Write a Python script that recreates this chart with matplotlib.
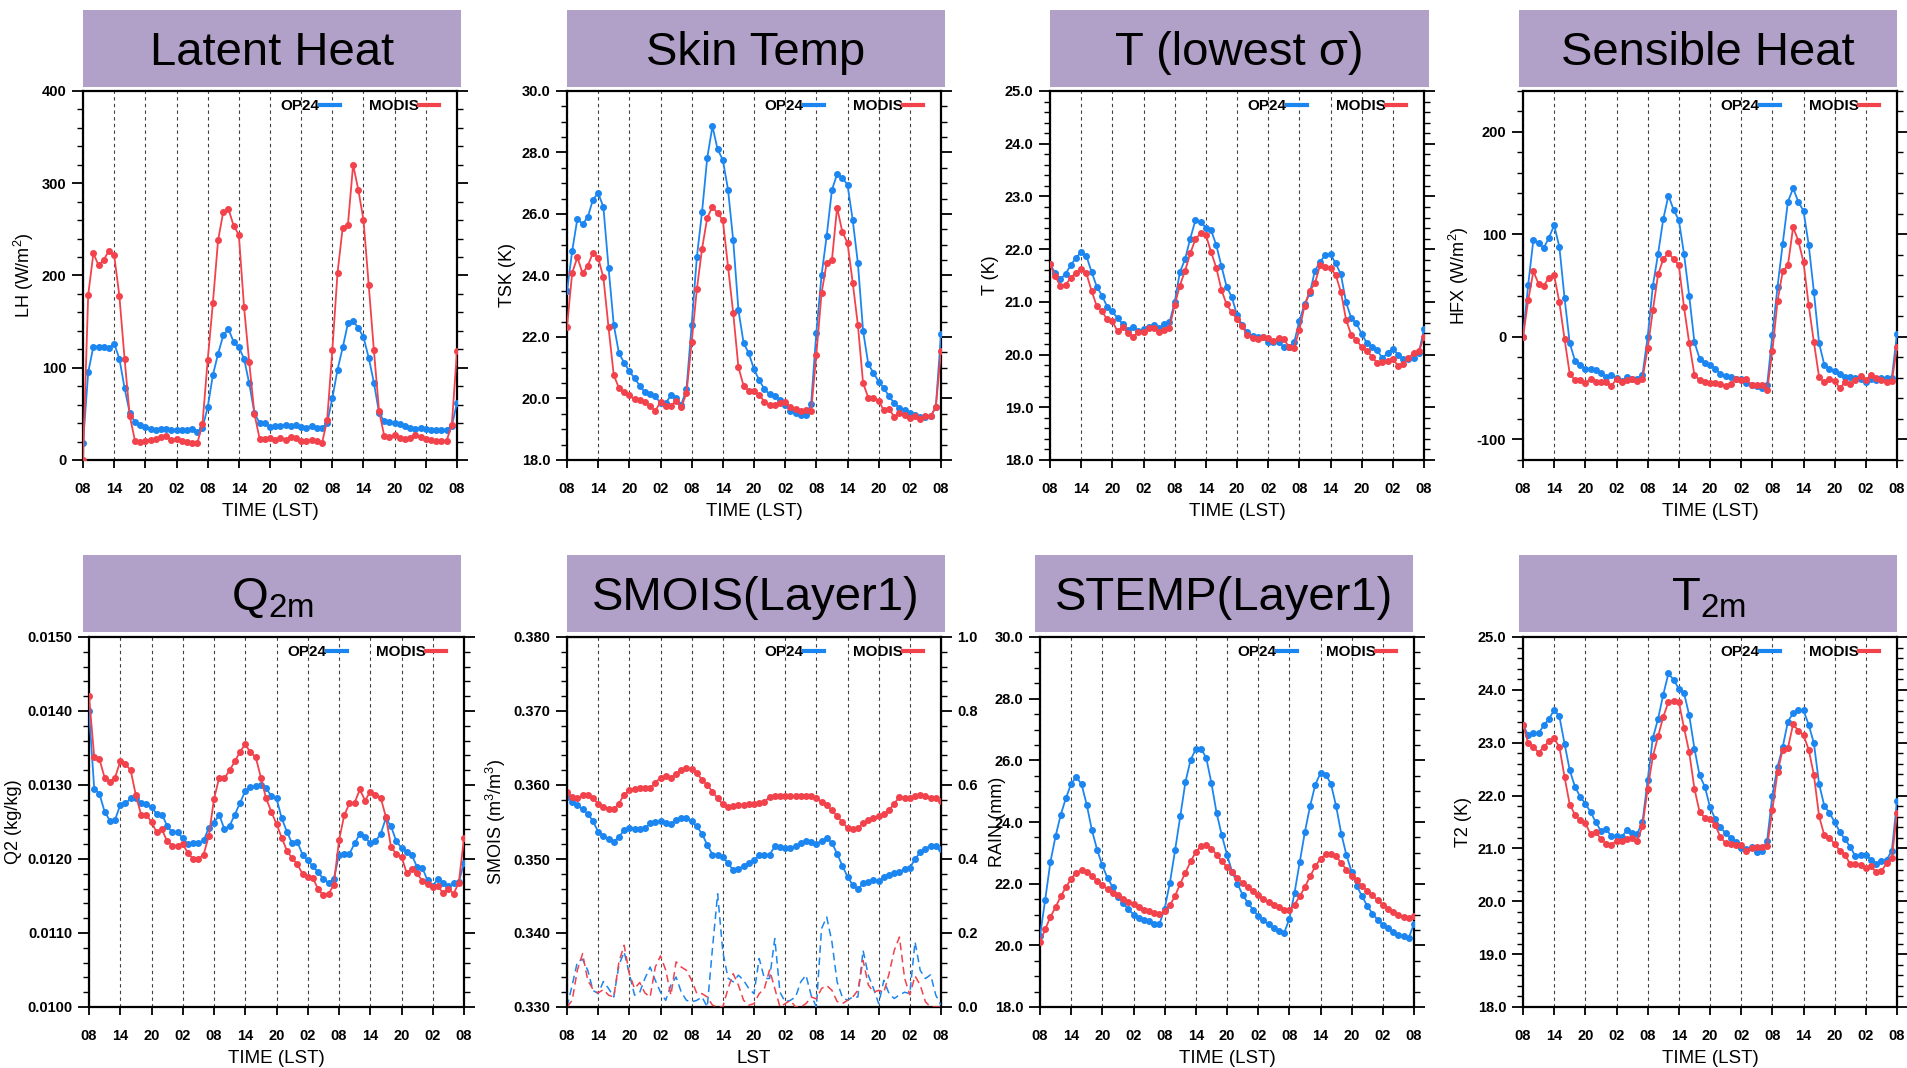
import matplotlib
matplotlib.use('Agg')
import matplotlib.pyplot as plt
from matplotlib.lines import Line2D
from matplotlib.ticker import MultipleLocator, FormatStrFormatter
import numpy as np

plt.rcParams['font.family'] = ['Liberation Sans', 'DejaVu Sans']
plt.rcParams['mathtext.default'] = 'regular'

hours = np.arange(73)
hour_labels = ['08', '14', '20', '02'] * 3 + ['08']

# Latent heat (W/m2)
lh_op24 = [18, 95, 123, 123, 123, 121, 126, 110, 78, 51, 41, 38,
           36, 34, 32, 34, 34, 33, 33, 33, 33, 34, 30, 35,
           57, 92, 115, 135, 142, 128, 122, 110, 83, 51, 40, 40,
           36, 37, 37, 38, 37, 38, 36, 35, 37, 35, 35, 40,
           67, 98, 122, 148, 151, 143, 133, 111, 84, 51, 42, 41,
           40, 39, 37, 35, 34, 35, 34, 33, 33, 33, 33, 37, 62]
lh_modis = [0, 179, 224, 211, 217, 227, 222, 178, 110, 48, 21, 20,
            21, 22, 23, 25, 26, 22, 23, 21, 19, 18, 18, 39,
            108, 170, 238, 269, 272, 254, 244, 166, 106, 50, 23, 23,
            24, 22, 24, 22, 25, 24, 21, 21, 22, 21, 18, 43,
            119, 203, 252, 255, 320, 293, 260, 190, 119, 53, 26, 25,
            27, 24, 23, 24, 27, 25, 23, 22, 21, 21, 21, 38, 118]

# Skin temperature
tsk_op24 = [23.5, 24.8, 25.85, 25.67, 25.9, 26.47, 26.68, 26.23, 24.25, 22.4, 21.47, 21.17,
            20.89, 20.66, 20.42, 20.2, 20.14, 20.07, 19.85, 19.85, 20.1, 20.03, 19.8, 20.3,
            22.4, 24.6, 26.07, 27.83, 28.85, 28.1, 27.76, 26.79, 25.14, 22.88, 21.8, 21.47,
            20.95, 20.6, 20.3, 20.14, 20.07, 19.96, 19.8, 19.6, 19.53, 19.45, 19.45, 19.83,
            22.14, 24.0, 25.3, 26.78, 27.3, 27.18, 26.95, 25.81, 24.4, 22.2, 21.12, 20.83,
            20.55, 20.34, 20.07, 19.85, 19.69, 19.63, 19.53, 19.47, 19.4, 19.4, 19.42, 19.72, 22.09]
tsk_modis = [22.34, 24.09, 24.59, 24.07, 24.32, 24.74, 24.57, 23.94, 22.31, 20.76, 20.34, 20.2,
             20.1, 19.98, 19.96, 19.88, 19.76, 19.59, 19.9, 19.76, 19.76, 19.93, 19.72, 20.17,
             21.83, 23.56, 24.87, 25.88, 26.23, 26.02, 25.8, 24.29, 22.77, 21.02, 20.41, 20.26,
             20.23, 20.12, 19.9, 19.8, 19.8, 19.85, 19.87, 19.72, 19.65, 19.58, 19.63, 19.6,
             21.42, 23.42, 24.42, 24.5, 26.21, 25.42, 25.06, 23.77, 22.39, 20.5, 20.03, 20.03,
             19.93, 19.61, 19.66, 19.4, 19.53, 19.45, 19.38, 19.42, 19.33, 19.42, 19.42, 19.72, 21.53]

# Temperature at lowest sigma level
t_op24 = [21.71, 21.55, 21.43, 21.53, 21.7, 21.83, 21.95, 21.87, 21.57, 21.29, 21.12, 20.91,
          20.82, 20.69, 20.58, 20.47, 20.53, 20.44, 20.48, 20.53, 20.56, 20.5, 20.58, 20.61,
          20.99, 21.56, 21.81, 22.2, 22.55, 22.52, 22.41, 22.36, 22.08, 21.68, 21.29, 21.09,
          20.75, 20.56, 20.42, 20.35, 20.33, 20.34, 20.23, 20.23, 20.23, 20.15, 20.15, 20.23,
          20.64, 20.95, 21.16, 21.59, 21.76, 21.89, 21.9, 21.73, 21.52, 20.99, 20.69, 20.59,
          20.39, 20.22, 20.15, 20.08, 19.93, 20.03, 20.11, 20.0, 19.91, 19.91, 19.93, 20.03, 20.48]
t_modis = [21.71, 21.49, 21.3, 21.32, 21.46, 21.55, 21.62, 21.54, 21.21, 20.92, 20.82, 20.67,
           20.63, 20.44, 20.53, 20.41, 20.34, 20.42, 20.42, 20.5, 20.51, 20.43, 20.47, 20.51,
           20.94, 21.31, 21.59, 21.92, 22.19, 22.3, 22.27, 21.95, 21.65, 21.23, 20.95, 20.8,
           20.67, 20.54, 20.37, 20.31, 20.29, 20.33, 20.32, 20.25, 20.32, 20.29, 20.15, 20.13,
           20.47, 20.92, 21.21, 21.35, 21.7, 21.67, 21.64, 21.51, 21.19, 20.66, 20.37, 20.28,
           20.14, 20.07, 19.96, 19.84, 19.85, 19.87, 19.91, 19.79, 19.82, 19.93, 20.03, 20.06, 20.33]

# Sensible heat (W/m2)
hfx_op24 = [0, 51, 95, 92, 87, 97, 109, 88, 38, -6, -23, -27,
            -31, -31, -32, -35, -39, -37, -40, -43, -39, -41, -41, -37,
            0, 50, 81, 115, 138, 124, 114, 81, 40, -5, -21, -25,
            -27, -31, -36, -38, -39, -41, -41, -45, -47, -48, -50, -47,
            2, 49, 91, 132, 145, 132, 123, 90, 44, -6, -27, -31,
            -33, -36, -39, -39, -40, -41, -44, -41, -42, -40, -40, -40, 3]
hfx_modis = [0, 36, 64, 52, 50, 58, 60, 34, -2, -36, -42, -42,
             -45, -41, -44, -44, -44, -48, -41, -44, -42, -41, -43, -41,
             -11, 26, 61, 76, 82, 76, 70, 29, -6, -37, -42, -44,
             -45, -45, -46, -48, -46, -41, -42, -41, -47, -47, -47, -52,
             -14, 35, 64, 70, 107, 94, 73, 31, -5, -39, -44, -41,
             -43, -50, -44, -46, -42, -38, -42, -37, -40, -42, -44, -43, -10]

# 2 m specific humidity (x 1e-4 kg/kg)
q2_op24 = [140.0, 129.5, 128.8, 126.4, 125.2, 125.3, 127.3, 127.5, 128.2, 128.2, 127.6, 127.4,
           127.0, 126.1, 126.0, 124.5, 123.6, 123.6, 122.8, 122.0, 122.1, 122.2, 122.5, 124.2,
           124.9, 126.0, 124.0, 124.5, 126.0, 127.6, 129.2, 129.7, 129.8, 130.0, 129.6, 128.5,
           128.2, 125.5, 123.7, 122.1, 122.3, 120.6, 119.8, 119.0, 118.2, 117.3, 116.8, 117.3,
           120.6, 120.7, 120.7, 122.1, 123.4, 123.0, 122.1, 122.4, 123.4, 125.5, 124.4, 122.4,
           121.5, 120.9, 120.5, 118.9, 118.8, 117.1, 116.4, 117.3, 116.8, 116.4, 116.7, 116.9, 119.5]
q2_modis = [142.0, 133.8, 133.5, 131.0, 130.4, 131.0, 133.2, 132.8, 132.0, 128.6, 126.0, 126.0,
            125.0, 123.6, 124.0, 122.4, 121.8, 121.8, 122.0, 120.8, 120.0, 120.0, 120.6, 123.1,
            128.1, 131.0, 130.9, 132.0, 133.2, 134.5, 135.5, 134.4, 133.8, 131.0, 128.2, 126.4,
            124.7, 122.9, 121.1, 120.1, 119.3, 118.0, 117.6, 117.4, 115.9, 115.1, 115.3, 116.5,
            122.5, 125.9, 127.5, 127.6, 129.4, 127.9, 129.1, 128.7, 128.3, 125.7, 121.6, 120.7,
            120.3, 118.1, 118.7, 118.1, 117.0, 116.6, 116.2, 116.3, 115.4, 116.0, 115.3, 116.8, 122.8]

# Soil moisture layer 1 (x 1e-3 m3/m3)
smois_op24 = [358.4, 357.7, 357.3, 356.7, 356.1, 355.1, 353.7, 353.1, 352.7, 352.3, 353.0, 353.9,
              354.2, 354.1, 354.0, 354.2, 354.8, 355.0, 355.1, 354.8, 354.7, 355.3, 355.5, 355.5,
              355.1, 354.4, 353.4, 351.9, 350.6, 350.6, 350.3, 349.4, 348.5, 348.6, 349.1, 349.5,
              349.8, 350.5, 350.6, 350.6, 351.7, 351.6, 351.5, 351.5, 351.7, 352.1, 352.5, 352.3,
              352.0, 352.5, 352.8, 352.2, 350.7, 349.1, 347.6, 346.5, 345.9, 346.7, 346.9, 347.1,
              347.0, 347.6, 347.9, 348.1, 348.3, 348.6, 348.8, 350.0, 350.9, 351.4, 351.8, 351.7, 351.4]
smois_modis = [359.0, 358.4, 358.2, 358.6, 358.7, 358.2, 357.5, 357.0, 356.8, 356.7, 357.5, 358.7,
               359.3, 359.5, 359.6, 359.6, 359.6, 360.3, 361.0, 361.2, 361.0, 361.5, 362.0, 362.3,
               362.1, 361.6, 360.7, 360.0, 359.1, 358.2, 357.4, 357.0, 357.1, 357.3, 357.3, 357.5,
               357.5, 357.6, 357.7, 358.4, 358.5, 358.5, 358.5, 358.5, 358.5, 358.5, 358.5, 358.5,
               358.3, 357.7, 357.3, 356.6, 355.8, 355.0, 354.2, 354.1, 354.2, 354.8, 355.3, 355.5,
               355.8, 356.1, 356.6, 357.5, 358.4, 358.3, 358.3, 358.5, 358.6, 358.5, 358.2, 358.2, 357.9]

# Rain (mm), right axis of the SMOIS panel
rain_op24 = [0, 0.059, 0.122, 0.129, 0.099, 0.045, 0.036, 0.069, 0.05, 0.027, 0.113, 0.149,
             0.09, 0.032, 0.04, 0.077, 0.108, 0.072, 0.04, 0.018, 0.059, 0.081, 0.04, 0.018,
             0.014, 0.018, 0.027, 0, 0.158, 0.306, 0.149, 0.078, 0.068, 0.086, 0.072, 0.05,
             0.036, 0.131, 0.077, 0.077, 0.185, 0.04, 0.014, 0.018, 0.027, 0.068, 0.086, 0.032,
             0, 0.212, 0.243, 0.176, 0.068, 0.027, 0.018, 0.027, 0.027, 0.153, 0.086, 0.05,
             0.009, 0.072, 0.036, 0.023, 0.033, 0.04, 0.036, 0.176, 0.099, 0.077, 0.087, 0.032, 0.005]
rain_modis = [0, 0.018, 0.10, 0.144, 0.072, 0.048, 0.038, 0.047, 0.032, 0.027, 0.122, 0.167,
              0.09, 0.05, 0.066, 0.038, 0.027, 0.108, 0.138, 0.10, 0.032, 0.122, 0.108, 0.099,
              0.072, 0.036, 0.036, 0.027, 0.005, 0, 0, 0.05, 0.09, 0.059, 0.018, 0.005,
              0.009, 0.036, 0.05, 0.10, 0.05, 0, 0.009, 0.018, 0, 0, 0.009, 0.027,
              0.022, 0.05, 0.058, 0.045, 0.015, 0.009, 0.018, 0.027, 0.045, 0.126, 0.06, 0.04,
              0.045, 0.04, 0.09, 0.153, 0.189, 0.077, 0.033, 0.084, 0.059, 0.014, 0, 0, 0]

# Soil temperature layer 1
stemp_op24 = [20.3, 21.48, 22.7, 23.54, 24.24, 24.78, 25.24, 25.46, 25.22, 24.56, 23.73, 23.1,
              22.59, 22.18, 21.89, 21.57, 21.37, 21.17, 21.0, 20.89, 20.83, 20.78, 20.7, 20.7,
              21.19, 22.02, 23.08, 24.18, 25.3, 26.02, 26.36, 26.38, 26.08, 25.26, 24.29, 23.57,
              22.94, 22.38, 22.0, 21.64, 21.38, 21.16, 20.95, 20.81, 20.68, 20.56, 20.45, 20.4,
              20.86, 21.7, 22.7, 23.68, 24.52, 25.21, 25.59, 25.54, 25.24, 24.52, 23.62, 22.92,
              22.38, 21.92, 21.59, 21.28, 21.03, 20.83, 20.67, 20.56, 20.43, 20.35, 20.29, 20.25, 20.7]
stemp_modis = [20.11, 20.52, 20.92, 21.24, 21.59, 21.89, 22.16, 22.36, 22.43, 22.38, 22.25, 22.09,
               21.95, 21.82, 21.71, 21.62, 21.51, 21.41, 21.33, 21.24, 21.16, 21.1, 21.05, 21.01,
               21.1, 21.3, 21.6, 22.0, 22.36, 22.72, 23.03, 23.21, 23.24, 23.14, 22.94, 22.72,
               22.54, 22.38, 22.19, 22.03, 21.89, 21.75, 21.62, 21.51, 21.41, 21.32, 21.24, 21.16,
               21.14, 21.32, 21.59, 21.89, 22.24, 22.56, 22.81, 22.95, 22.97, 22.89, 22.67, 22.45,
               22.25, 22.11, 21.92, 21.76, 21.62, 21.46, 21.32, 21.19, 21.08, 21.0, 20.92, 20.89, 20.95]

# 2 m temperature
t2_op24 = [23.34, 23.14, 23.18, 23.18, 23.33, 23.45, 23.62, 23.5, 22.98, 22.48, 22.17, 21.98,
           21.85, 21.69, 21.5, 21.33, 21.37, 21.23, 21.23, 21.22, 21.34, 21.29, 21.28, 21.5,
           22.29, 23.09, 23.45, 23.91, 24.31, 24.19, 24.02, 23.94, 23.52, 22.89, 22.38, 22.17,
           21.78, 21.56, 21.4, 21.29, 21.2, 21.13, 21.01, 20.98, 21.03, 20.93, 20.95, 21.15,
           22.0, 22.54, 22.92, 23.4, 23.56, 23.62, 23.61, 23.34, 22.99, 22.22, 21.81, 21.67,
           21.5, 21.31, 21.17, 21.03, 20.85, 20.87, 20.87, 20.79, 20.71, 20.76, 20.79, 20.95, 21.89]
t2_modis = [23.34, 23.0, 22.92, 22.81, 22.92, 23.03, 23.08, 22.92, 22.35, 21.83, 21.64, 21.53,
            21.48, 21.27, 21.31, 21.18, 21.09, 21.06, 21.15, 21.15, 21.17, 21.2, 21.15, 21.42,
            22.13, 22.74, 23.12, 23.49, 23.77, 23.79, 23.77, 23.28, 22.82, 22.13, 21.69, 21.58,
            21.56, 21.44, 21.22, 21.1, 21.08, 21.06, 21.06, 20.96, 21.01, 21.03, 21.03, 21.04,
            21.72, 22.45, 22.87, 22.9, 23.35, 23.23, 23.14, 22.87, 22.39, 21.61, 21.25, 21.2,
            21.08, 20.96, 20.88, 20.7, 20.7, 20.68, 20.63, 20.66, 20.55, 20.57, 20.72, 20.82, 21.67]

BLUE = '#1C86F0'
RED = '#F2424C'
BOX = '#B1A1C8'
W, H = 1907, 1068

fig = plt.figure(figsize=(W / 100, H / 100), dpi=100)


def px_axes(x0, y0, x1, y1):
    return fig.add_axes([x0 / W, 1 - y1 / H, (x1 - x0) / W, (y1 - y0) / H])


def title_box(x0, y0, x1, y1, text):
    t = px_axes(x0, y0, x1, y1)
    t.set_facecolor(BOX)
    t.set_xticks([])
    t.set_yticks([])
    for s in t.spines.values():
        s.set_visible(False)
    t.text(0.5, 0.44, text, ha='center', va='center', fontsize=34, transform=t.transAxes)


def style_y(ax, lo, hi, major, minor, fmt):
    ax.set_ylim(lo, hi)
    ax.yaxis.set_major_locator(MultipleLocator(major))
    ax.yaxis.set_minor_locator(MultipleLocator(minor))
    ax.yaxis.set_major_formatter(FormatStrFormatter(fmt))


def panel(box, op24, modis, lo, hi, major, minor, fmt, ylabel, xlabel='TIME (LST)', scale=1.0):
    ax = px_axes(*box)
    ax.plot(hours, np.array(op24) * scale, color=BLUE, lw=1.3, marker='o', ms=4, zorder=3)
    ax.plot(hours, np.array(modis) * scale, color=RED, lw=1.3, marker='o', ms=4, zorder=3)
    ax.set_xlim(0, 72)
    ax.set_xticks(range(0, 73, 6))
    ax.set_xticklabels(hour_labels)
    style_y(ax, lo, hi, major, minor, fmt)
    ax.xaxis.grid(True, ls=(0, (3, 3)), color='0.25', lw=0.8)
    ax.tick_params(axis='both', which='major', direction='out', length=8, width=1.3,
                   labelsize=10.5, pad=4)
    ax.tick_params(axis='y', which='minor', direction='out', length=4.5, width=1.0)
    ax.tick_params(axis='y', which='both', right=True)
    ax.tick_params(axis='x', which='major', length=6, pad=10)
    for lab in ax.get_xticklabels() + ax.get_yticklabels():
        lab.set_fontweight('bold')
    for s in ax.spines.values():
        s.set_linewidth(1.6)
    if ylabel:
        ax.set_ylabel(ylabel, fontsize=13, labelpad=4)
    ax.set_xlabel(xlabel, fontsize=13.5, labelpad=5)
    handles = [Line2D([], [], color=BLUE, lw=3), Line2D([], [], color=RED, lw=3)]
    ax.legend(handles, ['OP24', 'MODIS'], loc='upper right', bbox_to_anchor=(0.975, 1.0),
              ncol=2, markerfirst=False, frameon=False, handlelength=1.3, handletextpad=0.05,
              columnspacing=1.9, borderpad=0.25, borderaxespad=0.3,
              prop={'weight': 'bold', 'size': 11})
    return ax


# top row
title_box(83, 10, 461, 87, 'Latent Heat')
panel((83, 91, 457, 460), lh_op24, lh_modis, 0, 400, 100, 20, '%d', 'LH (W/m$^2$)')
title_box(567, 10, 945, 87, 'Skin Temp')
panel((567, 91, 941, 460), tsk_op24, tsk_modis, 18, 30, 2, 0.5, '%.1f', 'TSK (K)')
title_box(1050, 10, 1429, 87, 'T (lowest σ)')
panel((1050, 91, 1424, 460), t_op24, t_modis, 18, 25, 1, 0.2, '%.1f', 'T (K)')
title_box(1519, 10, 1897, 87, 'Sensible Heat')
panel((1523, 91, 1897, 460), hfx_op24, hfx_modis, -120, 240, 100, 20, '%d', 'HFX (W/m$^2$)')

# bottom row
title_box(83, 555, 461, 632, 'Q$_{2m}$')
panel((89, 637, 464, 1007), q2_op24, q2_modis, 0.0100, 0.0150, 0.001, 0.0002, '%.4f',
      'Q2 (kg/kg)', scale=1e-4)
title_box(567, 555, 945, 632, 'SMOIS(Layer1)')
ax_sm = panel((567, 637, 941, 1007), smois_op24, smois_modis, 0.330, 0.380, 0.01, 0.002, '%.3f',
              'SMOIS (m$^3$/m$^3$)', xlabel='LST', scale=1e-3)
ax_rain = ax_sm.twinx()
ax_rain.plot(hours, rain_op24, color=BLUE, lw=1.1, ls=(0, (5, 3)))
ax_rain.plot(hours, rain_modis, color=RED, lw=1.1, ls=(0, (5, 3)))
style_y(ax_rain, 0, 1.0, 0.2, 0.04, '%.1f')
ax_rain.tick_params(axis='y', which='major', direction='out', length=8, width=1.3, labelsize=10.5)
ax_rain.tick_params(axis='y', which='minor', direction='out', length=4.5, width=1.0)
for lab in ax_rain.get_yticklabels():
    lab.set_fontweight('bold')
# in the original this label sits over the STEMP panel's tick labels
ax_rain.set_ylabel('RAIN (mm)', fontsize=13, labelpad=8)
title_box(1035, 555, 1413, 632, 'STEMP(Layer1)')
panel((1040, 637, 1414, 1007), stemp_op24, stemp_modis, 18, 30, 2, 0.5, '%.1f', None)
title_box(1519, 555, 1897, 632, 'T$_{2m}$')
panel((1523, 637, 1897, 1007), t2_op24, t2_modis, 18, 25, 1, 0.2, '%.1f', 'T2 (K)')

fig.savefig('out.png', dpi=100)
